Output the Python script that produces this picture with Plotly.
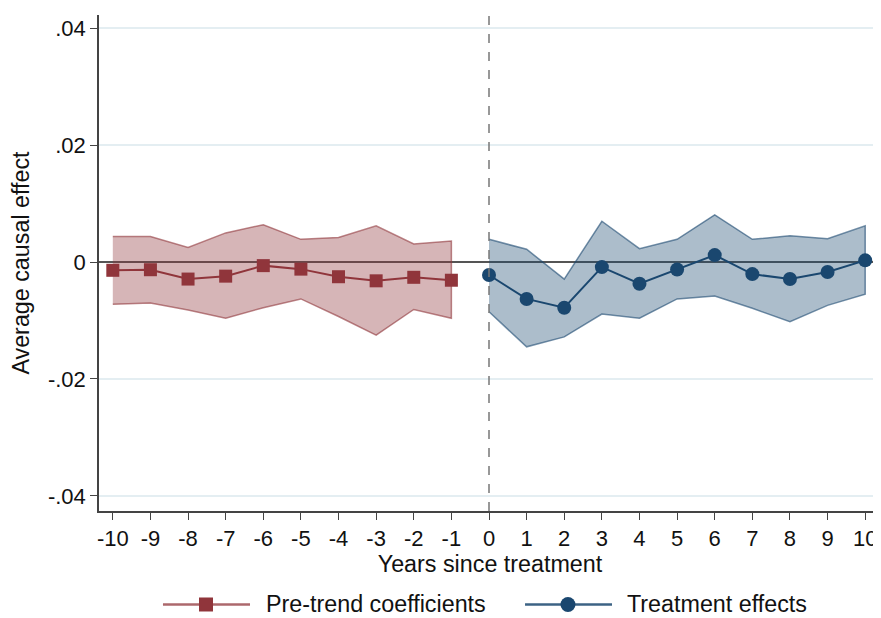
import plotly.graph_objects as go

pre_years = [-10, -9, -8, -7, -6, -5, -4, -3, -2, -1]
pre_coef = [-0.0014, -0.0013, -0.0029, -0.0024, -0.0006, -0.0012, -0.0025, -0.0032, -0.0026, -0.0031]
pre_upper = [0.0044, 0.0044, 0.0025, 0.0050, 0.0064, 0.0039, 0.0042, 0.0062, 0.0031, 0.0036]
pre_lower = [-0.0072, -0.0070, -0.0082, -0.0096, -0.0078, -0.0063, -0.0093, -0.0125, -0.0081, -0.0096]

post_years = [0, 1, 2, 3, 4, 5, 6, 7, 8, 9, 10]
post_coef = [-0.0022, -0.0063, -0.0078, -0.00085, -0.0037, -0.00125, 0.0012, -0.00205, -0.0029, -0.0017, 0.0003]
post_upper = [0.0039, 0.0022, -0.0029, 0.0070, 0.0023, 0.0039, 0.0081, 0.0039, 0.0045, 0.0040, 0.0062]
post_lower = [-0.0085, -0.0145, -0.0128, -0.0089, -0.0096, -0.0063, -0.0058, -0.0079, -0.0102, -0.0074, -0.0055]

x_ticks = list(range(-10, 11))
x_tick_labels = [str(v) for v in x_ticks]  # plain hyphen minus
y_ticks = [-0.04, -0.02, 0, 0.02, 0.04]
y_tick_labels = ["-.04", "-.02", "0", ".02", ".04"]

series_names = ["Pre-trend coefficients", "Treatment effects"]

red = "rgb(144,53,59)"
red_fill = "rgba(144,53,59,0.37)"
red_edge = "rgba(144,53,59,0.6)"
red_leg = "rgba(144,53,59,0.75)"
blue = "rgb(26,71,111)"
blue_fill = "rgba(26,71,111,0.36)"
blue_edge = "rgba(26,71,111,0.6)"
blue_leg = "rgba(26,71,111,0.85)"

FONT = "Liberation Sans, Arial, sans-serif"
FS = 22
FT = 23.3

fig = go.Figure()

fig.add_trace(go.Scatter(
    x=pre_years + pre_years[::-1], y=pre_upper + pre_lower[::-1],
    fill="toself", fillcolor=red_fill, mode="lines",
    line=dict(color=red_edge, width=1.5),
    showlegend=False, hoverinfo="skip"))
fig.add_trace(go.Scatter(
    x=post_years + post_years[::-1], y=post_upper + post_lower[::-1],
    fill="toself", fillcolor=blue_fill, mode="lines",
    line=dict(color=blue_edge, width=1.5),
    showlegend=False, hoverinfo="skip"))

fig.add_trace(go.Scatter(
    x=pre_years, y=pre_coef, mode="lines+markers", name=series_names[0],
    line=dict(color=red, width=2), marker=dict(symbol="square", size=13, color=red),
    showlegend=False))
fig.add_trace(go.Scatter(
    x=post_years, y=post_coef, mode="lines+markers", name=series_names[1],
    line=dict(color=blue, width=2), marker=dict(symbol="circle", size=14, color=blue),
    showlegend=False))

# vertical dashed reference line at treatment
fig.add_shape(type="line", xref="x", yref="paper", x0=0, x1=0, y0=0, y1=1,
              line=dict(color="#777777", width=1.5, dash="dash"))

# manual legend (Stata-style, long key lines)
leg_y = -0.1885
fig.add_shape(type="line", xref="paper", yref="paper", x0=0.0818, x1=0.1931, y0=leg_y, y1=leg_y,
              line=dict(color=red_leg, width=2.5))
fig.add_shape(type="rect", xref="paper", yref="paper", xsizemode="pixel", ysizemode="pixel",
              xanchor=0.1368, yanchor=leg_y, x0=-7, x1=7, y0=-7, y1=7,
              fillcolor=red, line=dict(width=0))
fig.add_annotation(x=0.2123, y=leg_y, xref="paper", yref="paper", text=series_names[0],
                   showarrow=False, xanchor="left", yanchor="middle", borderpad=0,
                   font=dict(size=FT))
fig.add_shape(type="line", xref="paper", yref="paper", x0=0.5448, x1=0.6560, y0=leg_y, y1=leg_y,
              line=dict(color=blue_leg, width=2.5))
fig.add_shape(type="circle", xref="paper", yref="paper", xsizemode="pixel", ysizemode="pixel",
              xanchor=0.5997, yanchor=leg_y, x0=-7.5, x1=7.5, y0=-7.5, y1=7.5,
              fillcolor=blue, line=dict(width=0))
fig.add_annotation(x=0.6739, y=leg_y, xref="paper", yref="paper", text=series_names[1],
                   showarrow=False, xanchor="left", yanchor="middle", borderpad=0,
                   font=dict(size=FT))

fig.update_layout(
    width=873, height=610,
    margin=dict(l=91, r=0, t=7, b=107),
    paper_bgcolor="white", plot_bgcolor="white",
    font=dict(family=FONT, size=FS, color="#111111"),
    showlegend=False,
    xaxis=dict(range=[-10.367, 10.42], tickmode="array", tickvals=x_ticks, ticktext=x_tick_labels,
               automargin=False,
               showgrid=False, zeroline=False, showline=True, linecolor="#444444", linewidth=1.5,
               ticks="outside", ticklen=7, tickcolor="#444444",
               tickfont=dict(size=FS),
               title=dict(text="Years since treatment", font=dict(size=FT), standoff=0)),
    yaxis=dict(range=[-0.0426, 0.0423], tickmode="array", tickvals=y_ticks, ticktext=y_tick_labels,
               automargin=False,
               showgrid=True, gridcolor="#e4eef2", gridwidth=1.5,
               zeroline=True, zerolinecolor="#555555", zerolinewidth=1.5,
               showline=True, linecolor="#444444", linewidth=1.5,
               ticks="outside", ticklen=7, tickcolor="#444444",
               tickfont=dict(size=FS),
               title=dict(text="Average causal effect", font=dict(size=FT), standoff=12)),
)

fig.write_html("out.html")
